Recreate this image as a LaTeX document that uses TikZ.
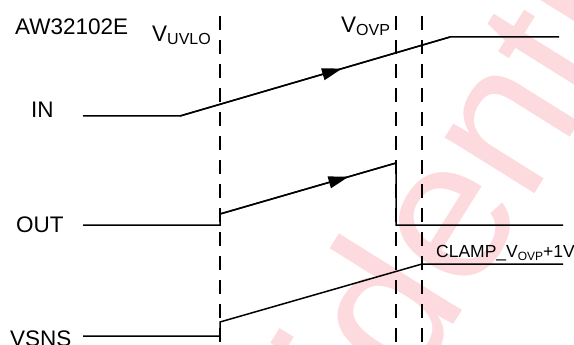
\documentclass[tikz,border=0pt]{standalone}
\usepackage{fontspec}
\setmainfont{Liberation Sans}
\usetikzlibrary{arrows.meta,decorations.markings}

\definecolor{stampred}{RGB}{252,218,222}

% lowered small text for the threshold names
\newcommand{\subtxt}[1]{\raisebox{-3pt}{\fontsize{16}{16}\selectfont #1}}

\begin{document}
\begin{tikzpicture}[x=1pt,y=-1pt,
    wave/.style={line width=1.5pt},
    guide/.style={line width=1.5pt, dash pattern=on 14pt off 10pt},
    lbl/.style={anchor=base west, inner sep=0pt, font=\fontsize{22.5}{27}\selectfont},
    flow/.style={postaction={decorate}, decoration={markings,
        mark=at position #1 with {\arrow{Triangle[length=20pt,width=12pt]}}}}]

    \useasboundingbox (0,0) rectangle (574,345);

    % background stamp
    \begin{scope}
        \clip (0,0) rectangle (574,345);
        \node[rotate=58, text=stampred, font=\fontsize{200}{200}\selectfont] (stamp) at (382,304) {Confidential};
    \end{scope}

    % threshold markers
    \coordinate (uvloTop) at (220,16);  \coordinate (uvloBot) at (220,345);
    \coordinate (ovpTop)  at (396,16);  \coordinate (ovpBot)  at (396,345);
    \coordinate (clTop)   at (422,16);  \coordinate (clBot)   at (422,345);
    \draw[guide] (uvloTop) -- (uvloBot);
    \draw[guide] (ovpTop) -- (ovpBot);
    \draw[guide] (clTop) -- (clBot);

    % labels
    \node[lbl] (chip) at (15,35) {AW32102E};
    \node[lbl] (uvlo) at (152,42) {V\subtxt{UVLO}};
    \node[lbl] (ovp)  at (341,33) {V\subtxt{OVP}};
    \node[lbl] (in)   at (31,118) {IN};
    \node[lbl] (out)  at (16,233) {OUT};
    \node[lbl] (vsns) at (10,346) {VSNS};
    \node[anchor=base west, inner sep=0pt, font=\fontsize{17.5}{21}\selectfont] (clamp) at (436,258)
        {CLAMP\_V\raisebox{-2pt}{\fontsize{12}{12}\selectfont OVP}+1V};

    % IN ramp
    \coordinate (in0) at (83,116);
    \coordinate (in1) at (180,116);
    \coordinate (in2) at (450,37);
    \coordinate (in3) at (559,37);
    \draw[wave] (in0) -- (in1) -- (in2) -- (in3);
    \draw[wave, flow=0.6] (in1) -- (in2);

    % OUT follows, then cut off at OVP
    \coordinate (out0) at (83,225);
    \coordinate (out1) at (220,225);
    \coordinate (out2) at (220,214);
    \coordinate (out3) at (396,163);
    \coordinate (out4) at (396,225);
    \coordinate (out5) at (563,225);
    \draw[wave] (out0) -- (out1) -- (out2) -- (out3) -- (out4) -- (out5);
    \draw[wave, flow=0.73] (out2) -- (out3);

    % VSNS clamped
    \coordinate (vs0) at (83,336);
    \coordinate (vs1) at (220,336);
    \coordinate (vs2) at (220,322);
    \coordinate (vs3) at (422,264);
    \coordinate (vs4) at (563,264);
    \draw[wave] (vs0) -- (vs1) -- (vs2) -- (vs3) -- (vs4);
\end{tikzpicture}
\end{document}
